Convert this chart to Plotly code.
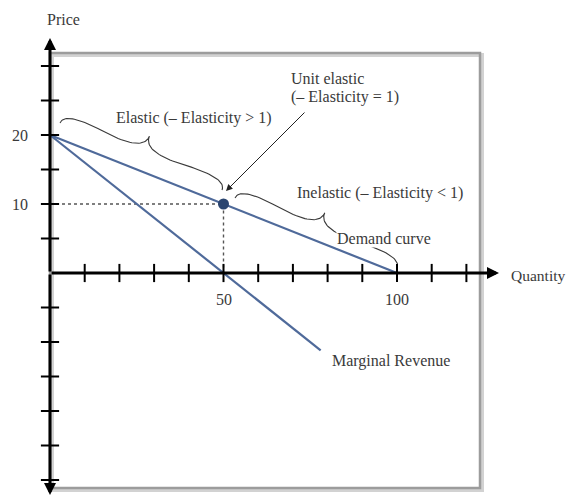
import plotly.graph_objects as go

# demand and marginal revenue (quantity, price)
demand_q = [0, 100]
demand_p = [20, 0]
mr_q = [0, 78]
mr_p = [20, -11.2]
unit_q = [50]
unit_p = [10]

x_ticks = [10, 20, 30, 40, 50, 60, 70, 80, 90, 100, 110, 120]
y_ticks = [-30, -25, -20, -15, -10, -5, 5, 10, 15, 20, 25, 30]
x_labels = {50: "50", 100: "100"}
y_labels = {20: "20", 10: "10"}

PAGE_OFF = 8                      # body margin of the page
W, H = 574 - 2 * PAGE_OFF, 504 - 2 * PAGE_OFF
ORIGIN_X, ORIGIN_Y = 50, 273     # page pixel position of (0, 0)
SX, SY = 3.47, 6.9                # pixels per unit

def q_of(px):
    return (px - ORIGIN_X) / SX

def p_of(py):
    return (ORIGIN_Y - py) / SY

def brace(p0, p1, w, q=0.6, n_pts=25):
    # curly brace in pixel space, returned in data coords
    dx, dy = p1[0] - p0[0], p1[1] - p0[1]
    ln = (dx ** 2 + dy ** 2) ** 0.5
    ux, uy = dx / ln, dy / ln
    nx, ny = uy, -ux
    tip = (p0[0] + 0.5 * ln * ux + w * nx, p0[1] + 0.5 * ln * uy + w * ny)

    def half(start, sign):
        c1 = (start[0] + q * w * nx, start[1] + q * w * ny)
        m = (start[0] + sign * 0.25 * ln * ux + (1 - q) * w * nx,
             start[1] + sign * 0.25 * ln * uy + (1 - q) * w * ny)
        c2 = (2 * m[0] - c1[0], 2 * m[1] - c1[1])
        pts = []
        for a, c, b in ((start, c1, m), (m, c2, tip)):
            for i in range(n_pts + 1):
                t = i / n_pts
                pts.append(((1 - t) ** 2 * a[0] + 2 * (1 - t) * t * c[0] + t ** 2 * b[0],
                            (1 - t) ** 2 * a[1] + 2 * (1 - t) * t * c[1] + t ** 2 * b[1]))
        return pts

    pts = half(p0, 1) + half(p1, -1)[::-1]
    return [q_of(x) for x, _ in pts], [p_of(y) for _, y in pts]

FONT = dict(family="Liberation Serif, Times New Roman, serif", size=16, color="#3a3a3a")
LINE_BLUE = "#4f6a9a"

fig = go.Figure()

# dashed guides to the unit elastic point
fig.add_trace(go.Scatter(x=[0, unit_q[0], unit_q[0]], y=[unit_p[0], unit_p[0], 0],
                         mode="lines", line=dict(color="#555555", width=1.4, dash="3px,3px")))

fig.add_trace(go.Scatter(x=demand_q, y=demand_p, mode="lines",
                         line=dict(color=LINE_BLUE, width=2.2)))
fig.add_trace(go.Scatter(x=mr_q, y=mr_p, mode="lines",
                         line=dict(color=LINE_BLUE, width=2.2)))

# braces
for p0, p1 in (((60, 123), (222, 190)), ((235, 198), (397, 268))):
    bx, by = brace(p0, p1, 22)
    fig.add_trace(go.Scatter(x=bx, y=by, mode="lines",
                             line=dict(color="#3a3a3a", width=1.1)))

# tick marks
fig.add_trace(go.Scatter(x=x_ticks, y=[0] * len(x_ticks), mode="markers",
                         marker=dict(symbol="line-ns", size=13,
                                     line=dict(color="black", width=2))))
fig.add_trace(go.Scatter(x=[0] * len(y_ticks), y=y_ticks, mode="markers",
                         marker=dict(symbol="line-ew", size=13,
                                     line=dict(color="black", width=2))))

fig.add_trace(go.Scatter(x=unit_q, y=unit_p, mode="markers",
                         marker=dict(size=11, color="#2b4570")))

# frame with a soft shadow
x_right, y_top, y_bot = q_of(480), p_of(53), p_of(488)
fig.add_shape(type="rect", x0=q_of(52), x1=q_of(482), y0=p_of(490), y1=p_of(55),
              line=dict(color="#d2d2d2", width=4), layer="below")
fig.add_shape(type="rect", x0=0, x1=x_right, y0=y_bot, y1=y_top,
              line=dict(color="#9c9c9c", width=2.5), layer="below")

# axes with arrowheads
for xe, ye in ((q_of(499), 0), (0, p_of(38)), (0, p_of(495))):
    fig.add_annotation(x=xe, y=ye, ax=0, ay=0, axref="x", ayref="y", text="",
                       showarrow=True, arrowhead=2, arrowsize=0.8, arrowwidth=3,
                       arrowcolor="black")

# unit elastic pointer
fig.add_annotation(x=q_of(226), y=p_of(191), ax=80, ay=-80, text="",
                   showarrow=True, arrowhead=2, arrowsize=1.3, arrowwidth=1,
                   arrowcolor="#222222")

def label(text, px, py, anchor="left", bg=None, size=16):
    fig.add_annotation(x=q_of(px), y=p_of(py), text=text, showarrow=False,
                       xanchor=anchor, yanchor="middle", font=dict(FONT, size=size),
                       bgcolor=bg, borderpad=0)

label("Price", 46, 19)
label("Quantity", 510, 275, size=15.5)
for v, t in y_labels.items():
    label(t, 20, ORIGIN_Y - v * SY, anchor="center")
for v, t in x_labels.items():
    label(t, ORIGIN_X + v * SX, 299, anchor="center")
label("Unit elastic", 290, 78)
label("(– Elasticity = 1)", 290, 97)
label("Elastic (– Elasticity > 1)", 115, 118)
label("Inelastic (– Elasticity < 1)", 296, 193)
label("Demand curve", 336, 238, bg="white")
label("Marginal Revenue", 331, 361)

# the page puts the figure 8px in from the top-left corner
fig.update_layout(
    width=W, height=H, showlegend=False,
    margin=dict(l=0, r=0, t=0, b=0),
    paper_bgcolor="white", plot_bgcolor="white",
    xaxis=dict(range=[q_of(PAGE_OFF), q_of(W + PAGE_OFF)], visible=False, fixedrange=True),
    yaxis=dict(range=[p_of(H + PAGE_OFF), p_of(PAGE_OFF)], visible=False, fixedrange=True),
)

fig.write_html("out.html")
